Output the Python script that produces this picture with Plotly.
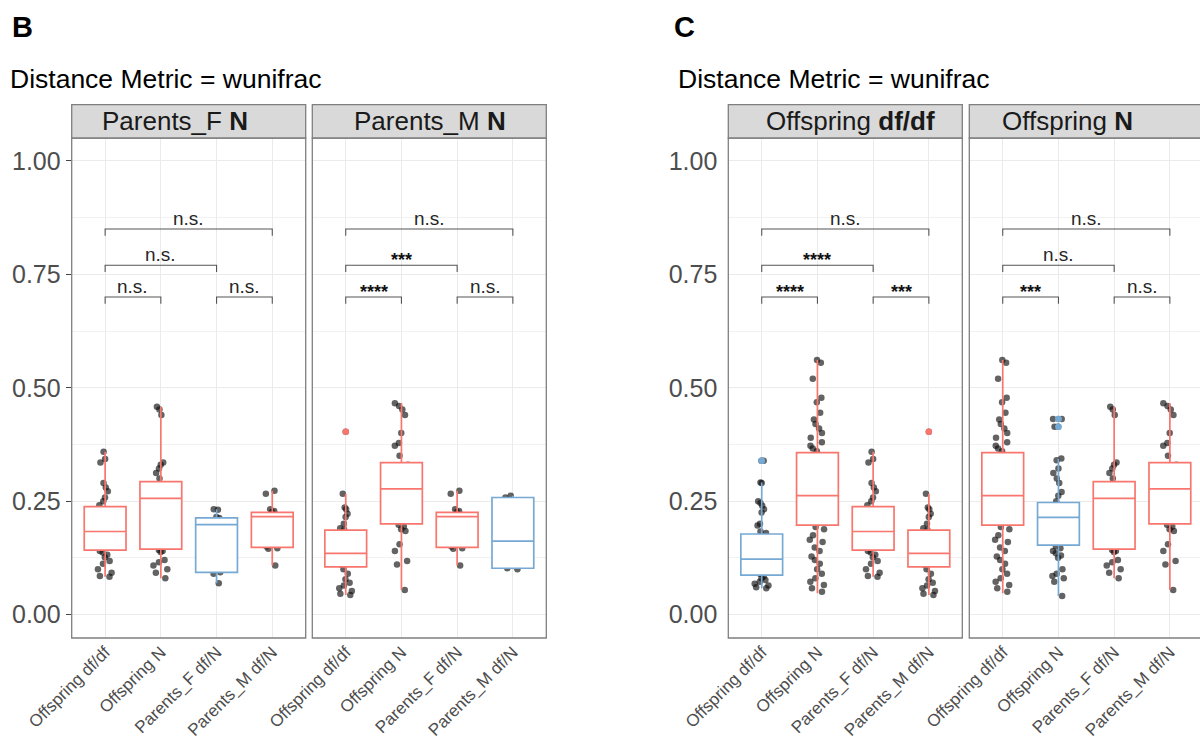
import plotly.graph_objects as go

# ---------------------------------------------------------------- data
CATEGORIES = ["Offspring df/df", "Offspring N", "Parents_F df/N", "Parents_M df/N"]
Y_TICKS = [0.0, 0.25, 0.5, 0.75, 1.0]
Y_TICK_TEXT = ["0.00", "0.25", "0.50", "0.75", "1.00"]
Y_MINOR = [0.125, 0.375, 0.625, 0.875]

# weighted UniFrac distances, one list per comparison group
pf_off_dfdf = [0.359, 0.343, 0.335, 0.290, 0.280, 0.272, 0.258, 0.250, 0.241,
               0.232, 0.220, 0.205, 0.190, 0.183, 0.165, 0.150,
               0.140, 0.137, 0.132, 0.126, 0.118, 0.112, 0.100, 0.092, 0.085, 0.083]
pf_off_n = [0.458, 0.452, 0.440, 0.335, 0.330, 0.322, 0.312, 0.300,
            0.285, 0.270, 0.262, 0.256, 0.235, 0.200, 0.170,
            0.142, 0.140, 0.138, 0.120, 0.115, 0.108, 0.100, 0.092, 0.080]
pf_pf = [0.232, 0.231, 0.215, 0.213, 0.198, 0.198, 0.093, 0.090, 0.069]
pf_pm = [0.273, 0.266, 0.232, 0.228, 0.226, 0.220, 0.216, 0.150, 0.146, 0.145, 0.108]
pm_off_dfdf = [0.403, 0.266, 0.236, 0.232, 0.222, 0.215, 0.200, 0.190, 0.187,
               0.175, 0.160, 0.140, 0.135, 0.130, 0.120, 0.110,
               0.100, 0.090, 0.078, 0.070, 0.064, 0.058, 0.052, 0.046, 0.043]
pm_off_n = [0.466, 0.460, 0.452, 0.440, 0.400, 0.378, 0.372, 0.350,
            0.330, 0.300, 0.280, 0.277, 0.260, 0.240, 0.220,
            0.198, 0.194, 0.188, 0.184, 0.155, 0.140, 0.118, 0.110, 0.054]
pm_pm = [0.262, 0.258, 0.162, 0.102, 0.100]
od_od = [0.339, 0.339, 0.291, 0.290, 0.250, 0.246, 0.240, 0.232, 0.225, 0.200,
         0.196, 0.183, 0.180, 0.170, 0.150, 0.130, 0.122, 0.115, 0.100, 0.090,
         0.084, 0.080, 0.076, 0.072, 0.068, 0.064, 0.060, 0.058]
od_on = [0.561, 0.555, 0.520, 0.478, 0.468, 0.445, 0.430, 0.420, 0.410, 0.400,
         0.390, 0.380, 0.372, 0.366, 0.360,
         0.345, 0.330, 0.310, 0.290, 0.275, 0.262, 0.250, 0.235, 0.220, 0.205,
         0.193, 0.188, 0.175, 0.165, 0.160, 0.148, 0.140, 0.128, 0.120, 0.112,
         0.100, 0.090, 0.080, 0.072, 0.065, 0.058, 0.050]
on_on = [0.431, 0.431, 0.414, 0.414, 0.344, 0.340, 0.322, 0.312, 0.300, 0.290,
         0.270, 0.262, 0.250, 0.240, 0.230, 0.214, 0.200, 0.180, 0.160,
         0.150, 0.146, 0.140, 0.135, 0.130, 0.125, 0.100, 0.090, 0.085, 0.080,
         0.072, 0.041]

# box statistics: q1, median, q3, lower whisker, upper whisker
pf_off_dfdf_box = [0.142, 0.183, 0.238, 0.083, 0.359]
pf_off_n_box = [0.144, 0.256, 0.293, 0.080, 0.458]
pf_pf_box = [0.093, 0.198, 0.213, 0.069, 0.232]
pf_pm_box = [0.148, 0.216, 0.225, 0.108, 0.273]
pm_off_dfdf_box = [0.105, 0.135, 0.186, 0.043, 0.266]
pm_off_n_box = [0.200, 0.277, 0.335, 0.054, 0.466]
pm_pm_box = [0.102, 0.162, 0.258, 0.100, 0.262]
od_od_box = [0.087, 0.122, 0.1775, 0.058, 0.291]
od_on_box = [0.197, 0.262, 0.357, 0.047, 0.561]
on_on_box = [0.153, 0.214, 0.247, 0.041, 0.344]

# values beyond the whiskers
pm_off_dfdf_out = [0.403]
od_od_out = [0.339, 0.339]
on_on_out = [0.431, 0.431, 0.414, 0.414]

# facets: strip title, groups per category, within-group flag, signif labels
FACET_TITLES = ["Parents_F <b>N</b>", "Parents_M <b>N</b>",
                "Offspring <b>df/df</b>", "Offspring <b>N</b>"]
FACET_POINTS = [[pf_off_dfdf, pf_off_n, pf_pf, pf_pm],
                [pm_off_dfdf, pm_off_n, pf_pm, pm_pm],
                [od_od, od_on, pf_off_dfdf, pm_off_dfdf],
                [od_on, on_on, pf_off_n, pm_off_n]]
FACET_BOXES = [[pf_off_dfdf_box, pf_off_n_box, pf_pf_box, pf_pm_box],
               [pm_off_dfdf_box, pm_off_n_box, pf_pm_box, pm_pm_box],
               [od_od_box, od_on_box, pf_off_dfdf_box, pm_off_dfdf_box],
               [od_on_box, on_on_box, pf_off_n_box, pm_off_n_box]]
FACET_OUTLIERS = [[[], [], [], []],
                  [pm_off_dfdf_out, [], [], []],
                  [od_od_out, [], [], pm_off_dfdf_out],
                  [[], on_on_out, [], []]]
FACET_WITHIN = [[False, False, True, False],
                [False, False, False, True],
                [True, False, False, False],
                [False, True, False, False]]
COMPARISONS = [(0, 1), (0, 2), (2, 3), (0, 3)]
FACET_SIGNIF = [["n.s.", "n.s.", "n.s.", "n.s."],
                ["****", "***", "n.s.", "n.s."],
                ["****", "****", "***", "n.s."],
                ["***", "n.s.", "n.s.", "n.s."]]
PANEL_LETTERS = ["B", "C"]
PANEL_TITLE = "Distance Metric = wunifrac"

# ---------------------------------------------------------------- styling
W, H = 1200, 744
RED = "#F8766D"
BLUE = "#76A9D3"
FONT = "Liberation Sans, Arial, Helvetica, sans-serif"
GRID = "#EBEBEB"
FRAME = "#7F7F7F"
BRACKET_Y = [0.70, 0.77, 0.70, 0.85]
TIP = 0.015

# facet panels in pixels (left, right); shared vertical extent
FACET_PX = [(71.7, 305.7), (312.3, 546.3), (728.3, 962.3), (969.3, 1203.3)]
STRIP_TEXT_X = [174.5, 430.0, 851.0, 1067.0]
PLOT_TOP, PLOT_BOTTOM = 138.0, 638.0
STRIP_TOP = 104.7
Y_RANGE = [-0.0518, 1.0507]
CAT_STEP = (FACET_PX[0][1] - FACET_PX[0][0]) / 4.2


def px(x):
    return x / W


def py(y):
    return 1 - y / H


fig = go.Figure()
shapes = []
annotations = []

for f in range(4):
    xa = "x" if f == 0 else f"x{f + 1}"
    ya = "y" if f == 0 else f"y{f + 1}"
    left, right = FACET_PX[f]
    dom_right = min(right, W)
    x_hi = -0.6 + (dom_right - left) / CAT_STEP
    colours = [BLUE if w else RED for w in FACET_WITHIN[f]]

    # jittered observations (drawn first so the white boxes cover the IQR)
    for c, vals in enumerate(FACET_POINTS[f]):
        fig.add_trace(go.Box(
            x=[CATEGORIES[c]] * len(vals), y=vals, xaxis=xa, yaxis=ya,
            boxpoints="all", jitter=0.42, pointpos=0, width=0.75,
            line=dict(width=0), fillcolor="rgba(0,0,0,0)", whiskerwidth=0,
            marker=dict(color="rgba(15,15,15,0.65)", size=6.5),
            showlegend=False, hoverinfo="y"))

    # boxes from summary statistics
    for c, st in enumerate(FACET_BOXES[f]):
        fig.add_trace(go.Box(
            x=[CATEGORIES[c]], q1=[st[0]], median=[st[1]], q3=[st[2]],
            lowerfence=[st[3]], upperfence=[st[4]], orientation="v",
            xaxis=xa, yaxis=ya, width=0.75, whiskerwidth=0,
            fillcolor="white", line=dict(color=colours[c], width=1.7),
            boxpoints=False, showlegend=False))

    # outliers in the group colour
    for c, outs in enumerate(FACET_OUTLIERS[f]):
        if outs:
            fig.add_trace(go.Scatter(
                x=[CATEGORIES[c]] * len(outs), y=outs, xaxis=xa, yaxis=ya,
                mode="markers", marker=dict(color=colours[c], size=6.5),
                showlegend=False, hoverinfo="y"))

    # significance brackets
    for k, (i, j) in enumerate(COMPARISONS):
        h = BRACKET_Y[k]
        fig.add_trace(go.Scatter(
            x=[CATEGORIES[i], CATEGORIES[i], CATEGORIES[j], CATEGORIES[j]],
            y=[h - TIP, h, h, h - TIP], xaxis=xa, yaxis=ya,
            mode="lines", line=dict(color="#555555", width=1.1),
            showlegend=False, hoverinfo="skip"))
        lab = FACET_SIGNIF[f][k]
        stars = lab.startswith("*")
        annotations.append(dict(
            x=(i + j) / 2, y=h, xref=xa, yref=ya, showarrow=False,
            text=f"<b>{lab}</b>" if stars else lab,
            yanchor="bottom", yshift=-7 if stars else -2,
            font=dict(family=FONT, size=19 if not stars else 18,
                      color="#111111" if stars else "#262626")))

    # axes (only panel B carries y tick marks)
    first = f in (0, 2)
    fig.update_layout(**{
        ("xaxis" if f == 0 else f"xaxis{f + 1}"): dict(
            domain=[px(left), px(dom_right)], anchor=ya, automargin=False,
            type="category", categoryorder="array", categoryarray=CATEGORIES,
            range=[-0.6, x_hi], showgrid=True, gridcolor=GRID, gridwidth=1.1,
            tickangle=-45, ticks="",
            tickfont=dict(family=FONT, size=17, color="#4D4D4D"),
            showline=False, zeroline=False),
        ("yaxis" if f == 0 else f"yaxis{f + 1}"): dict(
            domain=[py(PLOT_BOTTOM), py(PLOT_TOP)], anchor=xa, automargin=False,
            range=Y_RANGE, tickvals=Y_TICKS, ticktext=Y_TICK_TEXT,
            showticklabels=first, ticks="outside" if first else "",
            ticklen=5, tickcolor="#444444" if f == 0 else "rgba(0,0,0,0)",
            tickfont=dict(family=FONT, size=25, color="#4D4D4D"),
            showgrid=True, gridcolor=GRID, gridwidth=1.1, zeroline=False,
            minor=dict(tickvals=Y_MINOR, showgrid=True, gridcolor="#F1F1F1",
                       gridwidth=0.6, ticks=""),
            showline=False),
    })

    # panel frame and strip
    shapes.append(dict(type="rect", xref="paper", yref="paper",
                       x0=px(left), x1=px(right), y0=py(PLOT_BOTTOM), y1=py(PLOT_TOP),
                       line=dict(color=FRAME, width=1.3), layer="above"))
    shapes.append(dict(type="rect", xref="paper", yref="paper",
                       x0=px(left), x1=px(right), y0=py(PLOT_TOP), y1=py(STRIP_TOP),
                       fillcolor="#D9D9D9", line=dict(color=FRAME, width=1.3),
                       layer="above"))
    annotations.append(dict(
        x=px(STRIP_TEXT_X[f]), y=py((PLOT_TOP + STRIP_TOP) / 2),
        xref="paper", yref="paper", showarrow=False, text=FACET_TITLES[f],
        xanchor="center", yanchor="middle",
        font=dict(family=FONT, size=26, color="#1A1A1A")))

# panel letters and titles
for p, (lx, tx) in enumerate([(10, 8), (672, 676)]):
    annotations.append(dict(
        x=px(lx), y=py(27), xref="paper", yref="paper", showarrow=False,
        text=f"<b>{PANEL_LETTERS[p]}</b>", xanchor="left", yanchor="middle",
        font=dict(family=FONT, size=29, color="#000000")))
    annotations.append(dict(
        x=px(tx), y=py(79), xref="paper", yref="paper", showarrow=False,
        text=PANEL_TITLE, xanchor="left", yanchor="middle",
        font=dict(family=FONT, size=26.5, color="#000000")))

fig.update_layout(
    width=W, height=H, autosize=False,
    margin=dict(l=0, r=0, t=0, b=0, pad=0),
    paper_bgcolor="white", plot_bgcolor="white",
    boxmode="overlay", showlegend=False,
    font=dict(family=FONT),
    shapes=shapes, annotations=annotations,
)

fig.write_html("out.html")
